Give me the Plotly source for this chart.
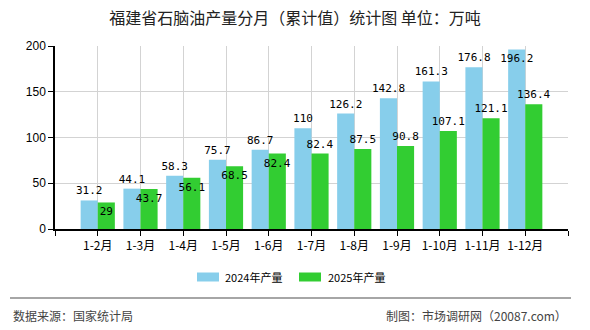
import plotly.graph_objects as go

categories = ["1-2月", "1-3月", "1-4月", "1-5月", "1-6月", "1-7月", "1-8月", "1-9月", "1-10月", "1-11月", "1-12月"]
values_2024 = [31.2, 44.1, 58.3, 75.7, 86.7, 110, 126.2, 142.8, 161.3, 176.8, 196.2]
values_2025 = [29, 43.7, 56.1, 68.5, 82.4, 82.4, 87.5, 90.8, 107.1, 121.1, 136.4]
series_names = ["2024年产量", "2025年产量"]
y_ticks = [0, 50, 100, 150, 200]

W, H = 590, 330
L, R, T, B = 55, 22, 46, 101
pw, ph = W - L - R, H - T - B

def px(p):
    return (p - L) / pw

def py(q):
    return (H - B - q) / ph

C24 = "#87CEEB"
C25 = "#32CD32"
x = list(range(len(categories)))
label_font = dict(family="DejaVu Sans Mono, monospace", size=11, color="#000")

def fmt(v):
    return f"{v:g}"

pos24 = ["outside"] * len(values_2024)
pos24[-1] = "inside"
pos25 = ["inside" if i < 5 else "outside" for i in range(len(values_2025))]

fig = go.Figure()
fig.add_trace(go.Bar(x=x, y=values_2024, name=series_names[0], marker=dict(color=C24, line=dict(width=0)),
                     text=[fmt(v) for v in values_2024], textposition=pos24, insidetextanchor="end",
                     textfont=label_font, insidetextfont=label_font, outsidetextfont=label_font,
                     constraintext="none", cliponaxis=False, textangle=0, offsetgroup="a"))
fig.add_trace(go.Bar(x=x, y=values_2025, name=series_names[1], marker=dict(color=C25, line=dict(width=0)),
                     text=[fmt(v) for v in values_2025], textposition=pos25, insidetextanchor="end",
                     textfont=label_font, insidetextfont=label_font, outsidetextfont=label_font,
                     constraintext="none", cliponaxis=False, textangle=0, offsetgroup="b"))

tickvals = [-1] + x + [len(categories)]
ticktext = [""] + categories + [""]

fig.update_layout(
    width=W, height=H,
    margin=dict(l=L, r=R, t=T, b=B, pad=0),
    paper_bgcolor="white", plot_bgcolor="white",
    barmode="group", bargap=0.2, bargroupgap=0,
    showlegend=False,
    font=dict(family="Noto Sans CJK SC, sans-serif", size=12, color="#000"),
    title=dict(text="福建省石脑油产量分月（累计值）统计图 单位：万吨", x=(295 - 0) / W, xref="container", xanchor="center",
               y=1 - 18 / H, yref="container", yanchor="middle", font=dict(size=16, color="#222")),
    xaxis=dict(range=[-1, len(categories)], tickvals=tickvals, ticktext=ticktext,
               showgrid=True, gridcolor="#d3d3d3", gridwidth=1,
               showline=True, linecolor="#000", linewidth=1.5,
               ticks="outside", ticklen=5, tickcolor="#000", tickwidth=1,
               tickfont=dict(size=12, color="#000"), zeroline=False, fixedrange=True),
    yaxis=dict(range=[0, 200], tickvals=y_ticks, showgrid=True, gridcolor="#d3d3d3", gridwidth=1,
               showline=True, linecolor="#000", linewidth=1.5,
               ticks="outside", ticklen=5, tickcolor="#000", tickwidth=1,
               tickfont=dict(family="Liberation Sans, Arial, sans-serif", size=12, color="#000"),
               zeroline=False, fixedrange=True),
)

shapes = []
annotations = []
# legend (manual)
leg = [(197, 223, C24, series_names[0]), (299, 326, C25, series_names[1])]
for x0, tx, col, name in leg:
    shapes.append(dict(type="rect", xref="paper", yref="paper", x0=px(x0), x1=px(x0 + 22),
                       y0=py(281.5), y1=py(272.5), fillcolor=col, line=dict(width=0)))
    annotations.append(dict(xref="paper", yref="paper", x=px(tx), y=py(277), text=name, showarrow=False,
                            xanchor="left", yanchor="middle", font=dict(size=11, color="#000")))
# footer separator
shapes.append(dict(type="line", xref="paper", yref="paper", x0=px(10), x1=px(571), y0=py(298), y1=py(298),
                   line=dict(color="#888", width=1.5)))
annotations.append(dict(xref="paper", yref="paper", x=px(11), y=py(315), text="数据来源：国家统计局",
                        showarrow=False, xanchor="left", yanchor="middle", font=dict(size=12, color="#444")))
annotations.append(dict(xref="paper", yref="paper", x=px(569), y=py(315), text="制图：市场调研网（20087.com）",
                        showarrow=False, xanchor="right", yanchor="middle", font=dict(size=12, color="#444")))

fig.update_layout(shapes=shapes, annotations=annotations)
fig.write_html("out.html")
